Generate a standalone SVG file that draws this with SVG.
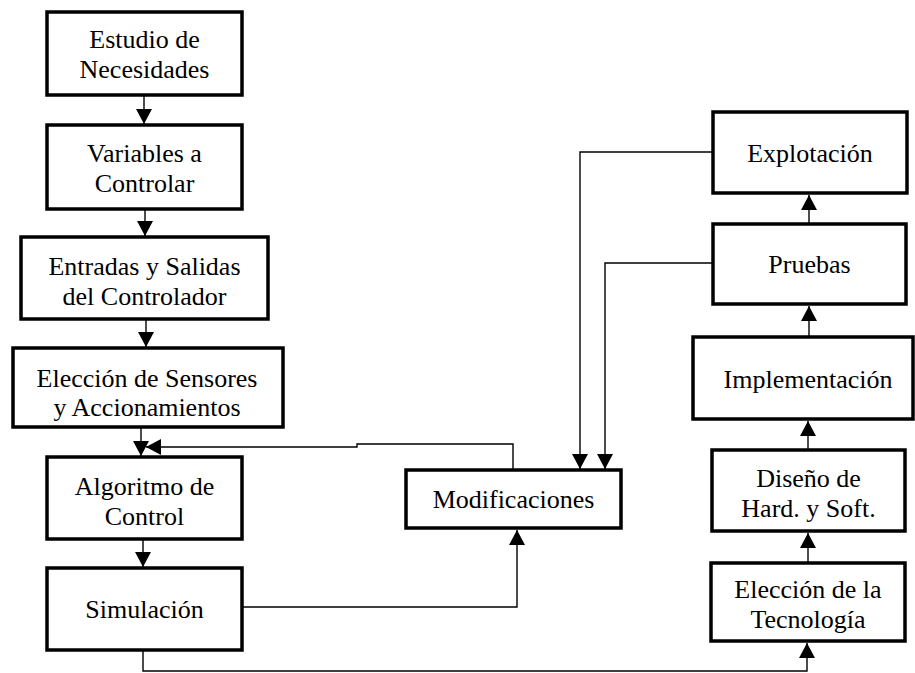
<svg xmlns="http://www.w3.org/2000/svg" width="915" height="673" viewBox="0 0 915 673">
<style>
.box{fill:#fff;stroke:#000;stroke-width:3.5}
.t{font-family:"Liberation Serif","Times New Roman",serif;font-size:26px;fill:#000;text-anchor:middle}
.c{fill:none;stroke:#000;stroke-width:1.4}
</style>
<defs>
<marker id="ah" markerUnits="userSpaceOnUse" markerWidth="16" markerHeight="16" viewBox="0 0 15 16" refX="15" refY="8" orient="auto">
<path d="M0,0 L15,8 L0,16 z" fill="#000"/>
</marker>
<clipPath id="clipB4"><rect x="13" y="348" width="270" height="74"/></clipPath>
<clipPath id="clipR5"><rect x="711" y="563" width="194" height="70"/></clipPath>
</defs>
<rect width="915" height="673" fill="#fff"/>
<g id="connectors">
<path class="c" d="M144,95 V124" marker-end="url(#ah)"/>
<path class="c" d="M145,209 V236" marker-end="url(#ah)"/>
<path class="c" d="M146,319 V347" marker-end="url(#ah)"/>
<path class="c" d="M141,427 V456" marker-end="url(#ah)"/>
<path class="c" d="M143,539 V567" marker-end="url(#ah)"/>
<path class="c" d="M513,469 V444 H357 V447 H146" marker-end="url(#ah)"/>
<path class="c" d="M242,607 H517 V530" marker-end="url(#ah)"/>
<path class="c" d="M713,152 H580 V469" marker-end="url(#ah)"/>
<path class="c" d="M713,263 H605 V469" marker-end="url(#ah)"/>
<path class="c" d="M809,224 V195" marker-end="url(#ah)"/>
<path class="c" d="M809,337 V306" marker-end="url(#ah)"/>
<path class="c" d="M808,450 V421" marker-end="url(#ah)"/>
<path class="c" d="M808,563 V533" marker-end="url(#ah)"/>
<path class="c" d="M143,650 V671 H807 V643" marker-end="url(#ah)"/>
</g>
<g id="estudio">
<rect class="box" x="47" y="12" width="195" height="83"/>
<text class="t" x="144.5" y="48">Estudio de</text>
<text class="t" x="144.5" y="78">Necesidades</text>
</g>
<g id="variables">
<rect class="box" x="47" y="125" width="195" height="84"/>
<text class="t" x="144.5" y="162">Variables a</text>
<text class="t" x="144.5" y="192">Controlar</text>
</g>
<g id="entradas">
<rect class="box" x="21" y="237" width="247" height="82"/>
<text class="t" x="144.5" y="275">Entradas y Salidas</text>
<text class="t" x="144.5" y="305">del Controlador</text>
</g>
<g id="eleccion-sensores">
<rect class="box" x="13" y="348" width="270" height="79"/>
<g clip-path="url(#clipB4)">
<text class="t" x="147" y="387">Elección de Sensores</text>
<text class="t" x="147" y="416">y Accionamientos</text>
</g>
</g>
<g id="algoritmo">
<rect class="box" x="47" y="457" width="195" height="82"/>
<text class="t" x="144.5" y="495">Algoritmo de</text>
<text class="t" x="144.5" y="525">Control</text>
</g>
<g id="simulacion">
<rect class="box" x="47" y="568" width="195" height="82"/>
<text class="t" x="144.5" y="618">Simulación</text>
</g>
<g id="modificaciones">
<rect class="box" x="406" y="470" width="215" height="58"/>
<text class="t" x="513.5" y="508">Modificaciones</text>
</g>
<g id="explotacion">
<rect class="box" x="713" y="112" width="194" height="81"/>
<text class="t" x="810" y="162">Explotación</text>
</g>
<g id="pruebas">
<rect class="box" x="713" y="224" width="193" height="80"/>
<text class="t" x="809.5" y="273">Pruebas</text>
</g>
<g id="implementacion">
<rect class="box" x="693" y="337" width="220" height="82"/>
<text class="t" x="808" y="388">Implementación</text>
</g>
<g id="diseno">
<rect class="box" x="712" y="450" width="193" height="81"/>
<text class="t" x="808.5" y="487">Diseño de</text>
<text class="t" x="808.5" y="517">Hard. y Soft.</text>
</g>
<g id="eleccion-tecnologia">
<rect class="box" x="711" y="563" width="194" height="78"/>
<g clip-path="url(#clipR5)">
<text class="t" x="808" y="598">Elección de la</text>
<text class="t" x="808" y="628">Tecnología</text>
</g>
</g>
</svg>
